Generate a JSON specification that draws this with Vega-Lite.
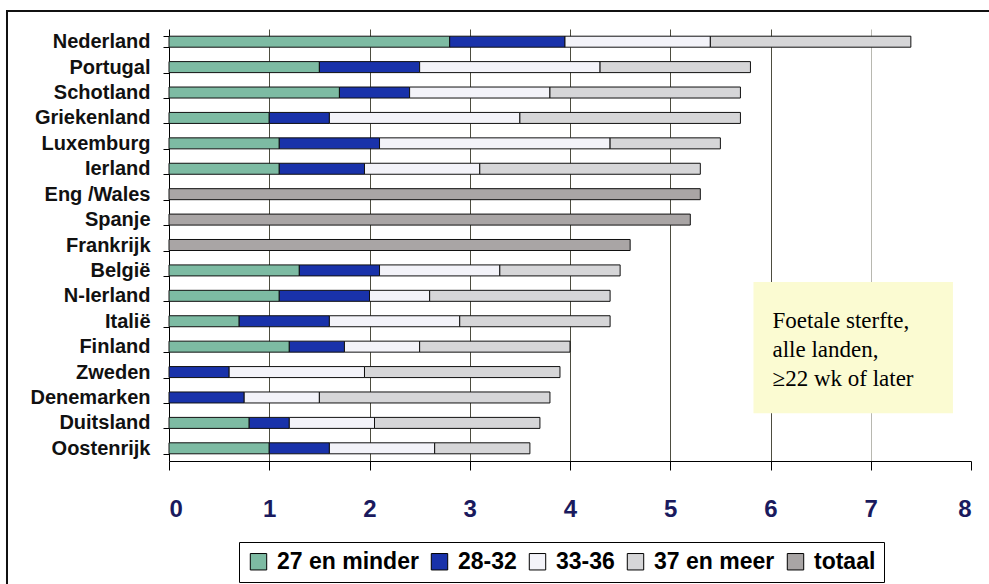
{
  "$schema": "https://vega.github.io/schema/vega-lite/v6.json",
  "width": 802,
  "height": 432,
  "autosize": {"type": "none"},
  "padding": {"left": 169, "top": 29, "right": 18, "bottom": 123},
  "background": "white",
  "config": {"view": {"stroke": null}, "font": "Liberation Sans"},
  "resolve": {"scale": {"y": "independent"}, "axis": {"y": "independent"}},
  "layer": [
    {
      "data": {
        "values": [
          {"land": "Nederland", "groep": "27 en minder", "waarde": 2.8},
          {"land": "Nederland", "groep": "28-32", "waarde": 1.15},
          {"land": "Nederland", "groep": "33-36", "waarde": 1.45},
          {"land": "Nederland", "groep": "37 en meer", "waarde": 2.0},
          {"land": "Portugal", "groep": "27 en minder", "waarde": 1.5},
          {"land": "Portugal", "groep": "28-32", "waarde": 1.0},
          {"land": "Portugal", "groep": "33-36", "waarde": 1.8},
          {"land": "Portugal", "groep": "37 en meer", "waarde": 1.5},
          {"land": "Schotland", "groep": "27 en minder", "waarde": 1.7},
          {"land": "Schotland", "groep": "28-32", "waarde": 0.7},
          {"land": "Schotland", "groep": "33-36", "waarde": 1.4},
          {"land": "Schotland", "groep": "37 en meer", "waarde": 1.9},
          {"land": "Griekenland", "groep": "27 en minder", "waarde": 1.0},
          {"land": "Griekenland", "groep": "28-32", "waarde": 0.6},
          {"land": "Griekenland", "groep": "33-36", "waarde": 1.9},
          {"land": "Griekenland", "groep": "37 en meer", "waarde": 2.2},
          {"land": "Luxemburg", "groep": "27 en minder", "waarde": 1.1},
          {"land": "Luxemburg", "groep": "28-32", "waarde": 1.0},
          {"land": "Luxemburg", "groep": "33-36", "waarde": 2.3},
          {"land": "Luxemburg", "groep": "37 en meer", "waarde": 1.1},
          {"land": "Ierland", "groep": "27 en minder", "waarde": 1.1},
          {"land": "Ierland", "groep": "28-32", "waarde": 0.85},
          {"land": "Ierland", "groep": "33-36", "waarde": 1.15},
          {"land": "Ierland", "groep": "37 en meer", "waarde": 2.2},
          {"land": "Eng /Wales", "groep": "totaal", "waarde": 5.3},
          {"land": "Spanje", "groep": "totaal", "waarde": 5.2},
          {"land": "Frankrijk", "groep": "totaal", "waarde": 4.6},
          {"land": "België", "groep": "27 en minder", "waarde": 1.3},
          {"land": "België", "groep": "28-32", "waarde": 0.8},
          {"land": "België", "groep": "33-36", "waarde": 1.2},
          {"land": "België", "groep": "37 en meer", "waarde": 1.2},
          {"land": "N-Ierland", "groep": "27 en minder", "waarde": 1.1},
          {"land": "N-Ierland", "groep": "28-32", "waarde": 0.9},
          {"land": "N-Ierland", "groep": "33-36", "waarde": 0.6},
          {"land": "N-Ierland", "groep": "37 en meer", "waarde": 1.8},
          {"land": "Italië", "groep": "27 en minder", "waarde": 0.7},
          {"land": "Italië", "groep": "28-32", "waarde": 0.9},
          {"land": "Italië", "groep": "33-36", "waarde": 1.3},
          {"land": "Italië", "groep": "37 en meer", "waarde": 1.5},
          {"land": "Finland", "groep": "27 en minder", "waarde": 1.2},
          {"land": "Finland", "groep": "28-32", "waarde": 0.55},
          {"land": "Finland", "groep": "33-36", "waarde": 0.75},
          {"land": "Finland", "groep": "37 en meer", "waarde": 1.5},
          {"land": "Zweden", "groep": "28-32", "waarde": 0.6},
          {"land": "Zweden", "groep": "33-36", "waarde": 1.35},
          {"land": "Zweden", "groep": "37 en meer", "waarde": 1.95},
          {"land": "Denemarken", "groep": "28-32", "waarde": 0.75},
          {"land": "Denemarken", "groep": "33-36", "waarde": 0.75},
          {"land": "Denemarken", "groep": "37 en meer", "waarde": 2.3},
          {"land": "Duitsland", "groep": "27 en minder", "waarde": 0.8},
          {"land": "Duitsland", "groep": "28-32", "waarde": 0.4},
          {"land": "Duitsland", "groep": "33-36", "waarde": 0.85},
          {"land": "Duitsland", "groep": "37 en meer", "waarde": 1.65},
          {"land": "Oostenrijk", "groep": "27 en minder", "waarde": 1.0},
          {"land": "Oostenrijk", "groep": "28-32", "waarde": 0.6},
          {"land": "Oostenrijk", "groep": "33-36", "waarde": 1.05},
          {"land": "Oostenrijk", "groep": "37 en meer", "waarde": 0.95}
        ]
      },
      "mark": {"type": "bar", "stroke": "#111", "strokeWidth": 1},
      "encoding": {
        "y": {
          "field": "land", "type": "nominal", "sort": null,
          "scale": {"paddingInner": 0.567, "paddingOuter": 0.283},
          "axis": {
            "title": null, "labelFont": "Liberation Sans", "labelFontWeight": "bold",
            "labelFontSize": 20, "labelColor": "#111", "domainColor": "#000",
            "tickColor": "#000", "tickSize": 6, "tickBand": "extent", "labelPadding": 13,
            "grid": false
          }
        },
        "x": {
          "field": "waarde", "type": "quantitative", "stack": "zero",
          "scale": {"domain": [0, 8], "nice": false},
          "axis": {
            "title": null, "values": [0, 1, 2, 3, 4, 5, 6, 7, 8], "format": "d",
            "labelFont": "Liberation Sans", "labelFontWeight": "bold",
            "labelFontSize": 24, "labelColor": "#1a1a5e", "labelPadding": 27,
            "tickSize": 9, "tickColor": "#000", "domainColor": "#000",
            "grid": true,
            "gridColor": {"condition": {"test": "datum.value == 7", "value": "#b8b8b0"}, "value": "#4d4d40"},
            "gridOpacity": {"condition": {"test": "datum.value == 8 || datum.value == 0", "value": 0}, "value": 1}
          }
        },
        "color": {
          "field": "groep", "type": "nominal",
          "scale": {
            "domain": ["27 en minder", "28-32", "33-36", "37 en meer", "totaal"],
            "range": ["#7dbba3", "#1932aa", "#f3f3f9", "#d6d6d8", "#a9a5a5"]
          },
          "legend": {
            "orient": "none", "legendX": 70, "legendY": 513, "direction": "horizontal",
            "columns": 5, "title": null, "symbolType": "square", "symbolSize": 270,
            "symbolStrokeColor": "#000", "symbolStrokeWidth": 1,
            "labelFont": "Liberation Sans", "labelFontWeight": "bold",
            "labelFontSize": 23, "labelColor": "#000", "strokeColor": "#000",
            "fillColor": "white", "padding": 8, "columnPadding": 9, "labelOffset": 7
          }
        },
        "order": {"field": "groep", "sort": "ascending"}
      }
    },
    {
      "data": {"values": [{}]},
      "layer": [
        {
          "mark": {"type": "rect", "fill": "#fbfbd2"},
          "encoding": {
            "x": {"datum": 5.83, "type": "quantitative", "scale": {"domain": [0, 8], "nice": false}},
            "x2": {"datum": 7.82},
            "y": {"datum": 9.96, "type": "quantitative", "scale": {"domain": [0, 17], "reverse": true, "nice": false}, "axis": null},
            "y2": {"datum": 15.12}
          }
        },
        {
          "mark": {
            "type": "text", "text": ["Foetale sterfte,", "alle landen,", "≥22 wk of later"],
            "align": "left", "baseline": "alphabetic", "font": "Liberation Serif",
            "fontSize": 23, "lineHeight": 29, "color": "#000"
          },
          "encoding": {
            "x": {"datum": 6.02, "type": "quantitative", "scale": {"domain": [0, 8], "nice": false}},
            "y": {"datum": 11.77, "type": "quantitative", "scale": {"domain": [0, 17], "reverse": true, "nice": false}, "axis": null}
          }
        },
        {
          "mark": {"type": "rect", "fill": null, "stroke": "#111", "strokeWidth": 2},
          "encoding": {
            "x": {"datum": -1.616, "type": "quantitative", "scale": {"domain": [0, 8], "nice": false}},
            "x2": {"datum": 8.4},
            "y": {"datum": -0.71, "type": "quantitative", "scale": {"domain": [0, 17], "reverse": true, "nice": false}, "axis": null},
            "y2": {"datum": 22.5}
          }
        }
      ]
    }
  ]
}
